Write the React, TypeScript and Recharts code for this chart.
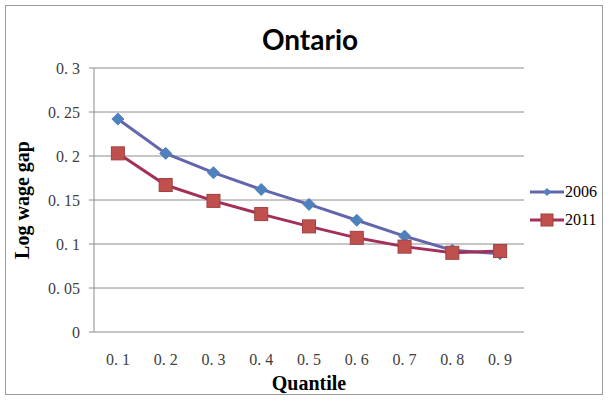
import { LineChart, Line, XAxis, YAxis, CartesianGrid, Legend, Label } from "recharts";

const quantiles = [0.1, 0.2, 0.3, 0.4, 0.5, 0.6, 0.7, 0.8, 0.9];
const gap2006 = [0.242, 0.203, 0.181, 0.162, 0.145, 0.127, 0.109, 0.093, 0.089];
const gap2011 = [0.203, 0.167, 0.149, 0.134, 0.120, 0.107, 0.097, 0.090, 0.092];
const yTicks = [0, 0.05, 0.1, 0.15, 0.2, 0.25, 0.3];
const quantileEdges = [0.05, 0.15, 0.25, 0.35, 0.45, 0.55, 0.65, 0.75, 0.85, 0.95];

const data = quantiles.map((q, i) => ({ q, y2006: gap2006[i], y2011: gap2011[i] }));

const GRID = "#8c8c8c";
const LINE_2006 = "#6366ab";
const MARK_2006 = "#4f81bd";
const LINE_2011 = "#a2305a";
const MARK_2011 = "#c0504d";

const fmt = (v: number) => String(v).replace(".", ". ");

function Diamond(props: any) {
  const { cx, cy, index } = props;
  if (cx == null || cy == null) return <g key={`d-${index}`} />;
  const r = 6;
  return (
    <path
      key={`d-${index}`}
      d={`M${cx},${cy - r}L${cx + r},${cy}L${cx},${cy + r}L${cx - r},${cy}Z`}
      fill={MARK_2006}
      stroke={MARK_2006}
      strokeWidth={1}
    />
  );
}

function Square(props: any) {
  const { cx, cy, index } = props;
  if (cx == null || cy == null) return <g key={`s-${index}`} />;
  const h = 6.5;
  return (
    <rect
      key={`s-${index}`}
      x={cx - h}
      y={cy - h}
      width={h * 2}
      height={h * 2}
      fill={MARK_2011}
      stroke="#a0403f"
      strokeWidth={1}
    />
  );
}

function LegendBox() {
  const items = [
    { name: "2006", line: LINE_2006, mark: "diamond" },
    { name: "2011", line: LINE_2011, mark: "square" },
  ];
  return (
    <div style={{ fontFamily: "'Liberation Serif', serif", fontSize: 16, color: "#000" }}>
      {items.map((it) => (
        <div key={it.name} style={{ display: "flex", alignItems: "center", height: 28 }}>
          <svg width={34} height={16} style={{ marginRight: 1 }}>
            <line x1={0} y1={8} x2={34} y2={8} stroke={it.line} strokeWidth={3} />
            {it.mark === "diamond" ? (
              <path d="M17,4L21,8L17,12L13,8Z" fill={MARK_2006} />
            ) : (
              <rect x={11} y={2} width={12} height={12} fill={MARK_2011} stroke="#a0403f" />
            )}
          </svg>
          <span>{it.name}</span>
        </div>
      ))}
    </div>
  );
}

export default function App() {
  return (
    <div style={{ position: "absolute", left: 0, top: 0, width: 608, height: 400, background: "#fff" }}>
      <div
        style={{
          position: "absolute",
          left: 5,
          top: 5,
          width: 596,
          height: 388,
          border: "1px solid #9a9a9a",
        }}
      />
      <div
        style={{
          position: "absolute",
          left: 0,
          width: 620,
          top: 22,
          textAlign: "center",
          fontFamily: "Lato, sans-serif",
          fontWeight: 700,
          fontSize: 28,
          color: "#000",
        }}
      >
        Ontario
      </div>
      <LineChart width={608} height={400} data={data} margin={{ top: 68, right: 84, bottom: 8, left: 0 }}>
        <CartesianGrid vertical={false} stroke={GRID} />
        <XAxis
          xAxisId="edges"
          dataKey="q"
          type="number"
          domain={[0.05, 0.95]}
          ticks={quantileEdges}
          tickFormatter={() => ""}
          height={0}
          tickSize={5}
          stroke={GRID}
          axisLine={{ stroke: GRID }}
          tickLine={{ stroke: GRID }}
        />
        <XAxis
          dataKey="q"
          type="number"
          domain={[0.05, 0.95]}
          ticks={quantiles}
          tickFormatter={fmt}
          axisLine={false}
          tickLine={false}
          tickSize={0}
          tickMargin={22}
          height={60}
          tick={{ fill: "#404040", fontSize: 16, fontFamily: "'Liberation Serif', serif" }}
        >
          <Label
            value="Quantile"
            position="insideBottom"
            offset={2}
            style={{ fontFamily: "'Liberation Serif', serif", fontWeight: 700, fontSize: 20, fill: "#000" }}
          />
        </XAxis>
        <YAxis
          width={94}
          domain={[0, 0.3]}
          ticks={yTicks}
          tickFormatter={fmt}
          tickSize={5}
          tickMargin={9}
          axisLine={{ stroke: GRID }}
          tickLine={{ stroke: GRID }}
          tick={{ fill: "#404040", fontSize: 16, fontFamily: "'Liberation Serif', serif" }}
        >
          <Label
            value="Log wage gap"
            angle={-90}
            position="insideLeft"
            offset={22}
            style={{
              textAnchor: "middle",
              fontFamily: "'Liberation Serif', serif",
              fontWeight: 700,
              fontSize: 20,
              fill: "#000",
            }}
          />
        </YAxis>
        <Line
          dataKey="y2006"
          name="2006"
          stroke={LINE_2006}
          strokeWidth={3}
          dot={Diamond}
          isAnimationActive={false}
        />
        <Line
          dataKey="y2011"
          name="2011"
          stroke={LINE_2011}
          strokeWidth={3}
          dot={Square}
          isAnimationActive={false}
        />
        <Legend
          layout="vertical"
          align="center"
          verticalAlign="middle"
          content={() => <LegendBox />}
          wrapperStyle={{ left: 530, top: 178, width: 76 }}
        />
      </LineChart>
    </div>
  );
}
